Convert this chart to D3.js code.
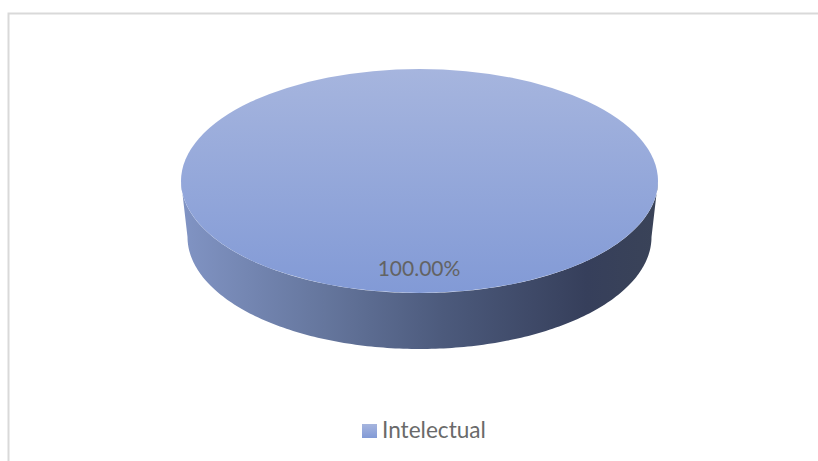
<!DOCTYPE html>
<html>
<head>
<meta charset="utf-8">
<script src="https://d3js.org/d3.v7.min.js"></script>
<style>
  html, body { margin: 0; padding: 0; background: #fff; overflow: hidden; }
  text { font-family: Lato, "Open Sans", sans-serif; }
</style>
</head>
<body>
<div id="chart"></div>
<script>
var categories = ["Intelectual"];
var values = [100];
var valueLabels = ["100.00%"];

var width = 818, height = 461;
var cx = 419.5, cy = 181, rx = 238.5, ry = 112;
var depth = 56, bottomRx = 232;

var svg = d3.select("#chart").append("svg")
  .attr("width", width)
  .attr("height", height);

var defs = svg.append("defs");

var topGrad = defs.append("linearGradient")
  .attr("id", "top-grad")
  .attr("x1", "0%").attr("x2", "0%")
  .attr("y1", "0%").attr("y2", "100%");
topGrad.append("stop").attr("offset", "0%").attr("stop-color", "#a6b5de");
topGrad.append("stop").attr("offset", "100%").attr("stop-color", "#829ad6");

var sideGrad = defs.append("linearGradient")
  .attr("id", "side-grad")
  .attr("x1", "0%").attr("x2", "100%")
  .attr("y1", "0%").attr("y2", "0%");
sideGrad.append("stop").attr("offset", "0%").attr("stop-color", "#8194c4");
sideGrad.append("stop").attr("offset", "30%").attr("stop-color", "#65769d");
sideGrad.append("stop").attr("offset", "55%").attr("stop-color", "#4c5a7c");
sideGrad.append("stop").attr("offset", "85%").attr("stop-color", "#363f5b");
sideGrad.append("stop").attr("offset", "100%").attr("stop-color", "#3a4358");

var legendGrad = defs.append("linearGradient")
  .attr("id", "legend-grad")
  .attr("x1", "0%").attr("x2", "0%")
  .attr("y1", "0%").attr("y2", "100%");
legendGrad.append("stop").attr("offset", "0%").attr("stop-color", "#a6b5de");
legendGrad.append("stop").attr("offset", "100%").attr("stop-color", "#829ad6");

// chart frame, only top and left show in the crop
svg.append("path")
  .attr("d", d3.line()([[8.5, height], [8.5, 13.5], [width, 13.5]]))
  .attr("fill", "none")
  .attr("stroke", "#d9d9d9")
  .attr("stroke-width", 2);

var pie = d3.pie().sort(null);
var slices = pie(values);

// side wall of the disc
var sideLine = d3.line();
var front = d3.range(0, 181).map(function (a) {
  var t = a * Math.PI / 180;
  return [cx + bottomRx * Math.cos(t), cy + depth + ry * Math.sin(t)];
});
var topEdge = d3.range(180, -1, -1).map(function (a) {
  var t = a * Math.PI / 180;
  return [cx + rx * Math.cos(t), cy + ry * Math.sin(t)];
});
svg.append("path")
  .attr("d", sideLine(front.concat(topEdge)) + "Z")
  .attr("fill", "url(#side-grad)");

// top of the disc: unit arc squashed to an ellipse
var arc = d3.arc().innerRadius(0).outerRadius(1);
svg.selectAll("path.slice")
  .data(slices)
  .enter().append("path")
  .attr("class", "slice")
  .attr("d", arc)
  .attr("transform", "translate(" + cx + "," + cy + ") scale(" + rx + "," + ry + ")")
  .attr("fill", "url(#top-grad)");

svg.selectAll("text.value")
  .data(valueLabels)
  .enter().append("text")
  .attr("class", "value")
  .attr("x", 419)
  .attr("y", 276)
  .attr("text-anchor", "middle")
  .attr("font-size", 21)
  .attr("fill", "#636363")
  .text(function (d) { return d; });

var legend = svg.selectAll("g.legend")
  .data(categories)
  .enter().append("g")
  .attr("class", "legend");
legend.append("rect")
  .attr("x", 362).attr("y", 424)
  .attr("width", 15).attr("height", 14)
  .attr("fill", "url(#legend-grad)");
legend.append("text")
  .attr("x", 382)
  .attr("y", 438)
  .attr("font-size", 22.6)
  .attr("fill", "#6a6a6a")
  .text(function (d) { return d; });
</script>
</body>
</html>
